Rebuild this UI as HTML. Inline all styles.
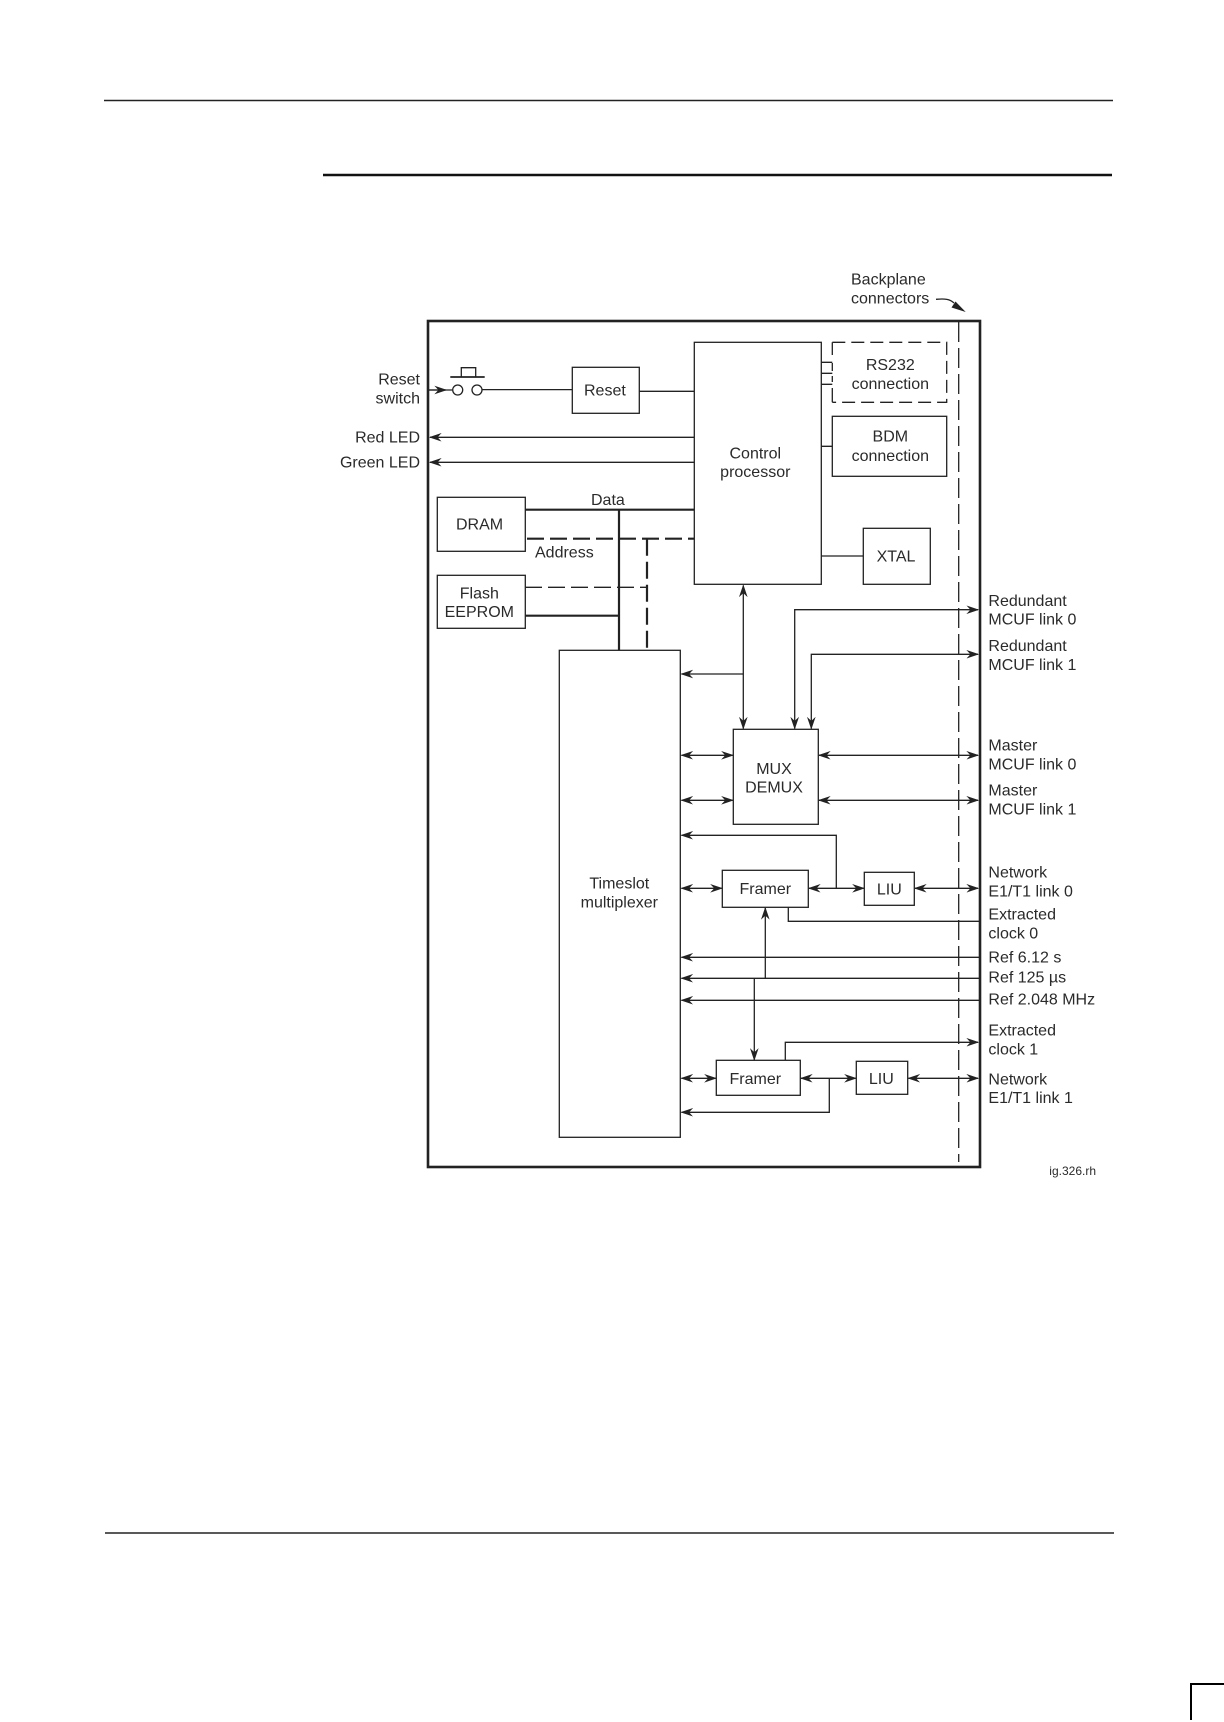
<!DOCTYPE html>
<html><head><meta charset="utf-8"><title>Diagram</title>
<style>
html,body{margin:0;padding:0;background:#fff;width:1224px;height:1722px;overflow:hidden}
svg{display:block}
text{font-family:"Liberation Sans",sans-serif;font-size:16px;fill:#2a2a2a}
.m{text-anchor:middle}.e{text-anchor:end}
.b{fill:#fff;stroke:#222;stroke-width:1.3}
.l{fill:none;stroke:#222;stroke-width:1.3}
.t{fill:none;stroke:#222;stroke-width:2.2}
.a{marker-end:url(#ah)}
.s{marker-start:url(#ah)}
</style></head><body>
<svg width="1224" height="1722" viewBox="0 0 1224 1722" xmlns="http://www.w3.org/2000/svg">
<defs>
<marker id="ah" markerUnits="userSpaceOnUse" markerWidth="14" markerHeight="10" refX="10" refY="4" orient="auto-start-reverse" viewBox="0 0 12 8">
<path d="M11,4 L0,0.3 L3.5,4 L0,7.7 Z" fill="#222"/>
</marker>
</defs>
<rect width="1224" height="1722" fill="#fff"/>
<!-- page rules -->
<path d="M104 100.5H1113" stroke="#222" stroke-width="1.5" fill="none"/>
<path d="M323 175H1112" stroke="#111" stroke-width="2.5" fill="none"/>
<path d="M105 1533H1114" stroke="#222" stroke-width="1.5" fill="none"/>
<path d="M1224 1684H1191V1720" stroke="#000" stroke-width="2" fill="none"/>

<!-- frame -->
<rect x="428" y="321" width="552" height="846" fill="#fff" stroke="#222" stroke-width="2.6"/>
<path d="M958.7 322V1162" class="l" stroke-dasharray="20 6"/>

<!-- thick buses -->
<path d="M525 509.7H694M619 509.7V650.3M525 615.7H619" class="t"/>
<path d="M527 538.7H694" class="t" stroke-dasharray="17 6"/>
<path d="M647 538.7V650.3" class="t" stroke-dasharray="17 6"/>
<path d="M525 587.3H647" class="l" stroke-dasharray="17 6"/>

<!-- boxes -->
<rect class="b" x="572.3" y="367.3" width="67" height="46"/>
<rect class="b" x="694.3" y="342.3" width="127" height="242"/>
<path class="l" d="M832.3 342.3H946.7V402.3H832.3" stroke-dasharray="13 6"/>
<path class="l" d="M832.3 342.3V355M832.3 363V371M832.3 376V382M832.3 388V402.3"/>
<rect class="b" x="832.3" y="416.3" width="114.4" height="60"/>
<rect class="b" x="863.3" y="528.3" width="67" height="56"/>
<rect class="b" x="437.3" y="497.3" width="88" height="54"/>
<rect class="b" x="437.3" y="575.3" width="88" height="53"/>
<rect class="b" x="559.3" y="650.3" width="121" height="487"/>
<rect class="b" x="733.3" y="729.3" width="85" height="95"/>
<rect class="b" x="722.3" y="870.3" width="86" height="37"/>
<rect class="b" x="864.3" y="872.3" width="50" height="33"/>
<rect class="b" x="716.3" y="1060.3" width="84" height="35"/>
<rect class="b" x="856.3" y="1061.3" width="51.4" height="33"/>

<!-- reset switch -->
<path d="M429 390H452" class="l"/>
<path d="M429 390H446" class="l a"/>
<circle cx="457.7" cy="390" r="5" fill="#fff" stroke="#222" stroke-width="1.3"/>
<circle cx="477" cy="390" r="5" fill="#fff" stroke="#222" stroke-width="1.3"/>
<path d="M450.3 377H484.7" stroke="#222" stroke-width="1.8" fill="none"/>
<path d="M461.3 377V367.7H475.7V377" class="l"/>
<path d="M482 389.6H572.3M639.3 391.3H694.3" class="l"/>

<!-- LED -->
<path d="M694.3 437.3H430" class="l a"/>
<path d="M694.3 462.3H430" class="l a"/>

<!-- small links -->
<path d="M821.3 362.3H832.3M821.3 373.3H832.3M821.3 384.3H832.3M821.3 446.3H832.3M821.3 556H863.3" class="l"/>

<!-- control - mux -->
<path d="M743.3 585.5V728.5" class="l a s"/>
<path d="M743.3 674H681.5" class="l a"/>
<path d="M794.7 728.5V609.7H978" class="l a s"/>
<path d="M811.3 728.5V654.3H978" class="l a s"/>
<path d="M681.5 755.3H732.8" class="l a s"/>
<path d="M681.5 800.3H732.8" class="l a s"/>
<path d="M819 755.3H978" class="l a s"/>
<path d="M819 800.3H978" class="l a s"/>

<!-- network 0 -->
<path d="M836.3 888.3V835.3H681.5" class="l a"/>
<path d="M681.5 888.3H721.8" class="l a s"/>
<path d="M809 888.3H863.8" class="l a s"/>
<path d="M915 888.3H978" class="l a s"/>
<path d="M788.3 907.3V921.3H979" class="l"/>

<!-- refs -->
<path d="M979 957.3H681.5" class="l a"/>
<path d="M979 978.3H681.5" class="l a"/>
<path d="M979 1000.3H681.5" class="l a"/>
<path d="M765.3 978.3V908" class="l a"/>
<path d="M754.3 978.3V1059.8" class="l a"/>

<!-- network 1 -->
<path d="M785.3 1060.3V1042.3H978" class="l a"/>
<path d="M681.5 1078.3H715.8" class="l a s"/>
<path d="M801 1078.3H855.8" class="l a s"/>
<path d="M908.5 1078.3H978" class="l a s"/>
<path d="M829.3 1078.3V1112.3H681.5" class="l a"/>

<!-- backplane pointer -->
<path d="M936 299.3C945 298.5 950 299 954 303" class="l"/>
<path d="M965.7 312L951.5 307.5L955.5 301.5Z" fill="#222"/>

<!-- labels -->
<text class="e" x="420" y="384.3">Reset</text>
<text class="e" x="420" y="403.3">switch</text>
<text class="e" x="420" y="442.7">Red LED</text>
<text class="e" x="420" y="467.7">Green LED</text>
<text x="584" y="395.7">Reset</text>
<text x="456" y="529.3">DRAM</text>
<text x="591" y="505">Data</text>
<text x="535" y="557.3">Address</text>
<text class="m" x="479.3" y="598.3">Flash</text>
<text class="m" x="479.3" y="617">EEPROM</text>
<text class="m" x="755.3" y="458.3">Control</text>
<text class="m" x="755.3" y="477">processor</text>
<text class="m" x="890.3" y="370">RS232</text>
<text class="m" x="890.3" y="389">connection</text>
<text class="m" x="890.3" y="441.7">BDM</text>
<text class="m" x="890.3" y="461">connection</text>
<text class="m" x="896" y="561.7">XTAL</text>
<text x="851" y="284.3">Backplane</text>
<text x="851" y="303.3">connectors</text>
<text x="988.4" y="606">Redundant</text>
<text x="988.4" y="624.7">MCUF link 0</text>
<text x="988.4" y="651">Redundant</text>
<text x="988.4" y="670">MCUF link 1</text>
<text x="988.4" y="750.7">Master</text>
<text x="988.4" y="769.3">MCUF link 0</text>
<text x="988.4" y="795.7">Master</text>
<text x="988.4" y="814.3">MCUF link 1</text>
<text x="988.4" y="877.3">Network</text>
<text x="988.4" y="896.3">E1/T1 link 0</text>
<text x="988.4" y="919.3">Extracted</text>
<text x="988.4" y="938.3">clock 0</text>
<text x="988.4" y="962.3">Ref 6.12 s</text>
<text x="988.4" y="982.7">Ref 125 µs</text>
<text x="988.4" y="1004.7">Ref 2.048 MHz</text>
<text x="988.4" y="1035.3">Extracted</text>
<text x="988.4" y="1054.3">clock 1</text>
<text x="988.4" y="1084.7">Network</text>
<text x="988.4" y="1103">E1/T1 link 1</text>
<text x="1049.3" y="1175" style="font-size:12px">ig.326.rh</text>
<text class="m" x="774" y="774">MUX</text>
<text class="m" x="774" y="792.3">DEMUX</text>
<text class="m" x="619.3" y="888.3">Timeslot</text>
<text class="m" x="619.3" y="907.3">multiplexer</text>
<text x="739.5" y="894">Framer</text>
<text class="m" x="889.3" y="894.7">LIU</text>
<text x="729.5" y="1084">Framer</text>
<text class="m" x="881.3" y="1084">LIU</text>
</svg>
</body></html>
